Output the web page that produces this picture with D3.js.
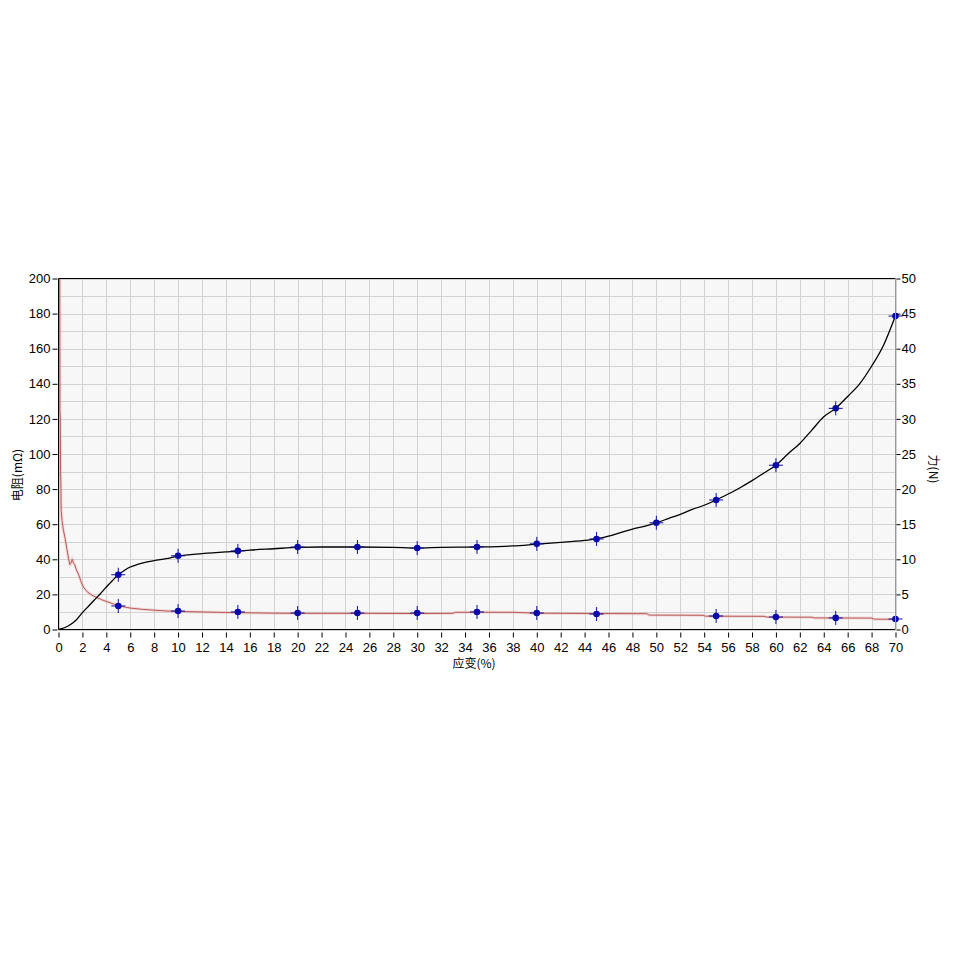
<!DOCTYPE html>
<html><head><meta charset="utf-8">
<script src="https://cdn.jsdelivr.net/npm/d3@7"></script>
<style>body{margin:0;background:#fff;}svg{display:block;}</style>
</head><body>
<svg id="c" width="961" height="961"></svg>
<script>
// Strain (%) and force (N) — black curve, right axis
const forceX = [0,0.5,1,1.5,2,2.5,3,3.5,4,4.5,5,5.5,6,6.5,7,8,9,10,12,14,15,16,18,20,22,25,28,30,32,35,38,40,42,44,45,46,47,48,49,50,51,52,53,54,55,56,57,58,59,60,61,62,63,64,65,66,67,68,69,70];
const forceY = [0,0.25,0.7,1.4,2.4,3.3,4.2,5.1,6.05,6.95,7.8,8.4,8.9,9.2,9.45,9.8,10.1,10.45,10.8,11.05,11.15,11.3,11.5,11.7,11.75,11.75,11.7,11.6,11.7,11.75,11.9,12.15,12.4,12.7,12.9,13.3,13.8,14.3,14.7,15.2,15.8,16.4,17.1,17.7,18.45,19.3,20.2,21.2,22.3,23.4,25,26.5,28.4,30.3,31.5,33.2,35,37.5,40.5,44.7];
// Strain (%) and resistance (mΩ) — red curve, left axis
const resX = [0.1,0.12,0.15,0.17,0.2,0.22,0.3,0.4,0.55,0.7,0.85,0.95,1.05,1.15,1.25,1.35,1.5,1.7,1.9,2.1,2.4,2.8,3.2,3.6,4,4.5,5,6,7,8,9,10,12,14,15,18,20,25,30,33,33.2,35,38,40,45,49.2,49.4,53.9,54.1,59,59.2,63,63.2,68,68.2,70];
const resY = [215,125,121,90,83,68,62,57,52,46,40,37,38,40,38,37,34,31,27,24,21.5,19.5,18.2,17,16,14.8,13.5,12.2,11.5,11,10.6,10.3,10,9.7,9.6,9.3,9.2,9.2,9.1,9.2,9.8,9.8,9.8,9.3,9.1,9.0,8.2,8.1,7.6,7.5,7.1,7.0,6.6,6.5,5.9,5.8];
// Marker points
const forceMarkX = [5,10,15,20,25,30,35,40,45,50,55,60,65,70];
const forceMarkY = [7.8,10.5,11.2,11.75,11.75,11.6,11.75,12.2,12.9,15.2,18.45,23.4,31.5,44.65];
const resMarkX = [5,10,15,20,25,30,35,40,45,55,60,65,70];
const resMarkY = [13.4,10.5,10,9.4,9.4,9.4,10,9.4,8.8,7.7,7.1,6.6,6];
// Axis ticks
const xTicks = d3.range(0, 71, 2);
const leftTicks = d3.range(0, 201, 20);
const rightTicks = d3.range(0, 51, 5);
const xLabel = "应变(%)";
const leftLabel = "电阻(mΩ)";
const rightLabel = "力(N)";

const L = 58.5, R = 895.5, T = 278.5, B = 629.5;
const svg = d3.select("#c");
const x = d3.scaleLinear().domain([0,70]).range([L,R]);
const yL = d3.scaleLinear().domain([0,200]).range([B,T]);
const yR = d3.scaleLinear().domain([0,50]).range([B,T]);
const numFont = "'Liberation Sans', Arial, sans-serif";
const cjkFont = "'Noto Sans CJK SC', sans-serif";

svg.append("rect").attr("x",L).attr("y",T).attr("width",R-L).attr("height",B-T).attr("fill","#f7f7f7");
// grid
const g = svg.append("g").attr("stroke","#d2d2d2").attr("stroke-width",1);
xTicks.forEach(t=>g.append("line").attr("x1",Math.round(x(t))+0.5).attr("x2",Math.round(x(t))+0.5).attr("y1",T).attr("y2",B));
d3.range(0,201,10).forEach(t=>g.append("line").attr("x1",L).attr("x2",R).attr("y1",Math.round(yL(t))+0.5).attr("y2",Math.round(yL(t))+0.5));

// clip
svg.append("clipPath").attr("id","clip").append("rect").attr("x",L).attr("y",T).attr("width",R-L).attr("height",B-T);
const plot = svg.append("g").attr("clip-path","url(#clip)");

const resData = resX.map((d,i)=>[d,resY[i]]);
const forceData = forceX.map((d,i)=>[d,forceY[i]]);
const resLine = d3.line().x(d=>x(d[0])).y(d=>yL(d[1]));
const forceLine = d3.line().x(d=>x(d[0])).y(d=>yR(d[1])).curve(d3.curveMonotoneX);

plot.append("path").attr("d",resLine(resData)).attr("fill","none").attr("stroke","rgba(230,160,160,0.35)").attr("stroke-width",3);
plot.append("path").attr("d",resLine(resData)).attr("fill","none").attr("stroke","#b85a5a").attr("stroke-width",1);
plot.append("path").attr("d",forceLine(forceData)).attr("fill","none").attr("stroke","#000").attr("stroke-width",1.3);

function markers(xs, ys, sy){
  xs.forEach((xv,i)=>{
    const cx = x(xv), cy = sy(ys[i]);
    const m = svg.append("g");
    m.append("line").attr("x1",cx-7).attr("x2",cx+7).attr("y1",cy).attr("y2",cy).attr("stroke","#1010a0").attr("stroke-width",1);
    m.append("line").attr("x1",cx).attr("x2",cx).attr("y1",cy-7).attr("y2",cy+7).attr("stroke","#1010a0").attr("stroke-width",1);
    m.append("circle").attr("cx",cx).attr("cy",cy).attr("r",3.3).attr("fill","#0a0aa8");
  });
}
markers(forceMarkX, forceMarkY, yR);
markers(resMarkX, resMarkY, yL);

// frame
svg.append("line").attr("x1",L).attr("x2",R).attr("y1",T).attr("y2",T).attr("stroke","#000");
svg.append("line").attr("x1",L).attr("x2",L).attr("y1",T).attr("y2",B).attr("stroke","#000");
svg.append("line").attr("x1",L).attr("x2",R).attr("y1",B).attr("y2",B).attr("stroke","#000");
svg.append("line").attr("x1",R).attr("x2",R).attr("y1",T).attr("y2",B).attr("stroke","#999");

// axes
const ax = svg.append("g").attr("transform",`translate(0,${B+3})`)
  .call(d3.axisBottom(x).tickValues(xTicks).tickSize(5).tickSizeOuter(0).tickPadding(5));
ax.select(".domain").remove();
ax.selectAll("text").attr("font-family",numFont).attr("font-size",13).attr("fill","#000");

const al = svg.append("g").attr("transform",`translate(${L-1},0)`)
  .call(d3.axisLeft(yL).tickValues(leftTicks).tickSize(5).tickSizeOuter(0).tickPadding(2));
al.select(".domain").remove();
al.selectAll("text").attr("font-family",numFont).attr("font-size",13).attr("fill","#000");

const ar = svg.append("g").attr("transform",`translate(${R+1},0)`)
  .call(d3.axisRight(yR).tickValues(rightTicks).tickSize(4).tickSizeOuter(0).tickPadding(1));
ar.select(".domain").remove();
ar.selectAll("text").attr("font-family",numFont).attr("font-size",13).attr("fill","#000");

svg.append("text").attr("x",474).attr("y",668).attr("text-anchor","middle").attr("font-family",cjkFont).attr("font-size",12).text(xLabel);
svg.append("text").attr("transform","translate(22,475) rotate(-90)").attr("text-anchor","middle").attr("font-family",cjkFont).attr("font-size",12).text(leftLabel);
svg.append("text").attr("transform","translate(929,469) rotate(90)").attr("text-anchor","middle").attr("font-family",cjkFont).attr("font-size",12).text(rightLabel);
</script>
</body></html>
